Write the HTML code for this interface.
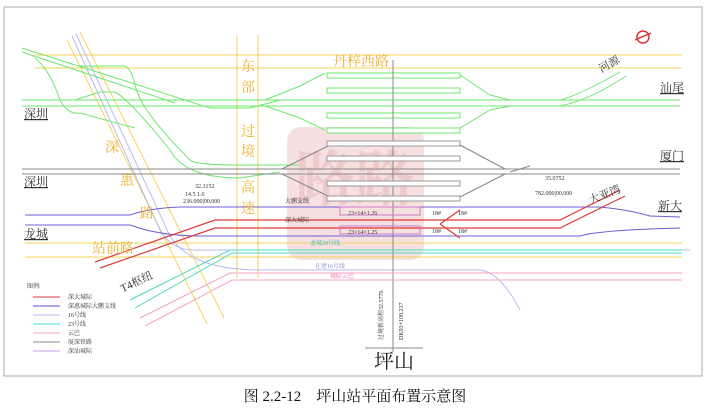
<!DOCTYPE html>
<html><head><meta charset="utf-8"><style>
body{margin:0;background:#fff;width:710px;height:409px;overflow:hidden}
svg{display:block}
text{font-family:"Liberation Serif","Noto Serif CJK SC",serif}
</style></head><body>
<svg width="710" height="409" viewBox="0 0 710 409" xmlns="http://www.w3.org/2000/svg">
<rect x="4" y="7" width="698" height="369" fill="#fff" stroke="#aaa" stroke-width="1"/>
<rect x="287" y="127" width="137" height="133" rx="14" fill="#f6e0e0"/>
<text x="355" y="200" font-size="60" fill="#efcaca" text-anchor="middle" font-weight="bold" font-family="Liberation Sans,sans-serif">路路</text>
<g stroke="#f5d35a" stroke-width="1" fill="none">
<line x1="35" y1="55" x2="682" y2="55"/><line x1="35" y1="68" x2="682" y2="68"/>
<line x1="237" y1="35" x2="237" y2="278"/><line x1="258" y1="35" x2="258" y2="278"/>
<line x1="67" y1="40" x2="207" y2="324"/><line x1="80" y1="32" x2="224" y2="318"/>
<line x1="25" y1="243" x2="682" y2="243"/><line x1="25" y1="257" x2="682" y2="257"/>
</g>
<g stroke="#b9b9f0" stroke-width="1" fill="none">
<path d="M72 36 L160 230 Q170 248 190 250 L690 250"/>
<path d="M76 34 L165 225 Q180 270 260 270 L480 270 Q500 272 520 310"/>
</g>
<g stroke="#6ee86e" stroke-width="1" fill="none">
<line x1="22" y1="100" x2="680" y2="100"/><line x1="22" y1="106" x2="680" y2="106"/>
<path d="M22 48 L210 108 L250 108 L280 100"/>
<path d="M22 52 L175 103"/>
<path d="M35 58 Q50 70 60 100 Q68 115 80 113 L135 128"/>
<path d="M80 66 L125 66 Q132 70 135 85 Q140 110 190 160 Q195 165 240 165 L300 165"/>
<path d="M75 100 L100 92 L115 92 Q130 100 170 150 Q185 178 240 178 L280 172"/>
<path d="M265 100 L300 86 L325 73"/><path d="M265 106 L300 118 L325 130"/>
<path d="M460 75 L490 95 L510 100"/><path d="M460 128 L490 110 L510 106"/>
<path d="M520 100 L560 100 Q580 95 620 72"/><path d="M530 106 L560 106 Q590 100 626 76"/>
</g>
<g stroke="#6ee86e" stroke-width="1" fill="#fff">
<rect x="327" y="73" width="133" height="5"/><rect x="327" y="88" width="133" height="5"/>
<rect x="327" y="113" width="133" height="5"/><rect x="327" y="128" width="133" height="5"/>
</g>
<g stroke="#888" stroke-width="1" fill="none">
<line x1="22" y1="169" x2="680" y2="169"/><line x1="22" y1="174" x2="680" y2="174"/>
<path d="M282 169 L330 145"/><path d="M282 174 L330 197"/>
<path d="M460 145 L505 169"/><path d="M460 197 L505 174"/>
<path d="M510 172 L530 166"/>
<line x1="393" y1="60" x2="393" y2="352"/>
<line x1="365" y1="348" x2="423" y2="348"/>
</g>
<g stroke="#999" stroke-width="1" fill="#fff">
<rect x="327" y="141" width="133" height="5"/><rect x="327" y="156" width="133" height="5"/>
<rect x="327" y="181" width="133" height="5"/><rect x="327" y="196" width="133" height="5"/>
</g>
<g stroke="#6b5fd6" stroke-width="1" fill="none">
<path d="M25 215 L130 215 Q150 208 180 207 L600 207 Q630 210 650 216 L680 217"/>
<path d="M25 225 L130 225 Q160 236 200 236 L580 236 Q600 230 680 228"/>
</g>
<g stroke="#e03a3a" stroke-width="1.2" fill="none">
<path d="M95 262 L215 220 L560 220 L620 190"/>
<path d="M100 268 L215 228 L560 228 L625 196"/>
<path d="M440 224 L460 210 M440 224 L460 238"/>
</g>
<g fill="none" stroke-width="1">
<path d="M130 300 L230 250 L682 250" stroke="#4fd8c4"/>
<path d="M135 308 L232 253 L682 253" stroke="#4fd8c4"/>
<path d="M140 318 L230 273 L682 273" stroke="#f5a5c0"/>
<path d="M145 326 L232 280 L682 280" stroke="#f5a5c0"/>
</g>
<g stroke="#d07ad0" stroke-width="1" fill="none"><rect x="340" y="207" width="80" height="8"/><rect x="340" y="226" width="80" height="8"/></g>
<g fill="#f0b030" font-size="14">
<text x="333" y="66">丹梓西路</text>
<text x="241" y="71">东</text><text x="241" y="92">部</text>
<text x="241" y="136">过</text><text x="241" y="156">境</text><text x="241" y="192">高</text><text x="241" y="213">速</text>
<text x="105" y="152">深</text><text x="120" y="185">惠</text><text x="140" y="218">路</text>
<text x="92" y="253">站前路</text>
</g>
<g fill="#333" font-size="12" text-decoration="underline">
<text x="24" y="118">深圳</text><text x="24" y="186">深圳</text><text x="24" y="238">龙城</text>
<text x="660" y="92">汕尾</text><text x="660" y="160">厦门</text><text x="658" y="210">新大</text>
</g>
<text x="598" y="70" font-size="11" fill="#333" transform="rotate(-30 605 65)">河源</text>
<text x="588" y="200" font-size="11" fill="#333" transform="rotate(-22 600 195)">大亚湾</text>
<text x="118" y="288" font-size="11" fill="#333" transform="rotate(-25 130 280)">T4枢纽</text>
<g font-size="6" fill="#333">
<text x="285" y="203">大鹏支线</text><text x="285" y="222">深大城际</text>
<text x="195" y="188">32.3152</text><text x="185" y="196">14.5 1.6</text><text x="183" y="203">236.000|00.000</text>
<text x="545" y="180">35.0752</text><text x="535" y="195">782.000|00.000</text>
<text x="348" y="215">23×14×1.26</text><text x="348" y="234">23×14×1.25</text>
<text x="432" y="215">18#</text><text x="458" y="215">18#</text><text x="432" y="233">18#</text><text x="458" y="233">18#</text>
<text x="310" y="245" fill="#3bb">龙城20号线</text><text x="315" y="268" fill="#88c">在建16号线</text><text x="330" y="278" fill="#e6a">城际云巴</text>
</g>
<text x="383" y="340" font-size="6" fill="#333" transform="rotate(-90 383 340)">过境新高程32.5776</text>
<text x="403" y="340" font-size="6" fill="#333" transform="rotate(-90 403 340)">DK93+108.237</text>
<text x="374" y="368" font-size="20" fill="#222">坪山</text>
<g font-size="6" fill="#333">
<text x="27" y="288">图例:</text>
<text x="68" y="299">深大城际</text><text x="68" y="308">深惠城际大鹏支线</text><text x="68" y="317">16号线</text>
<text x="68" y="326">23号线</text><text x="68" y="335">云巴</text><text x="68" y="344">厦深铁路</text><text x="68" y="353">深汕城际</text>
</g>
<g stroke-width="1">
<line x1="33" y1="297" x2="60" y2="297" stroke="#e03a3a"/>
<line x1="33" y1="306" x2="60" y2="306" stroke="#5a4fd0"/>
<line x1="33" y1="315" x2="60" y2="315" stroke="#b9b9f0"/>
<line x1="33" y1="324" x2="60" y2="324" stroke="#4fd8c4"/>
<line x1="33" y1="333" x2="60" y2="333" stroke="#f5a5c0"/>
<line x1="33" y1="342" x2="60" y2="342" stroke="#888"/>
<line x1="33" y1="351" x2="60" y2="351" stroke="#c9a0e8"/>
</g>
<circle cx="643" cy="37" r="6" fill="none" stroke="#d33" stroke-width="1.5"/>
<line x1="635" y1="40" x2="651" y2="33" stroke="#d33" stroke-width="1.5"/>
<text x="355" y="401" font-size="15" fill="#111" text-anchor="middle" font-family="Liberation Sans,Noto Sans CJK SC,sans-serif">图 2.2-12　坪山站平面布置示意图</text>
</svg>
</body></html>
